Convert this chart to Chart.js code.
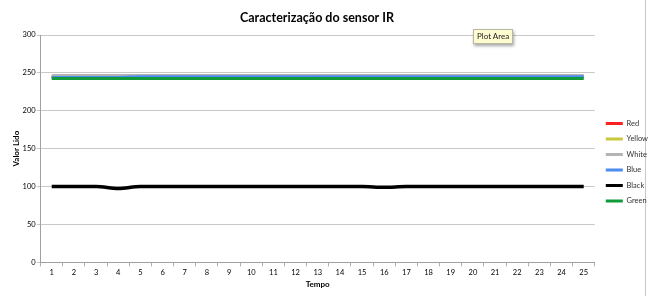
<!DOCTYPE html>
<html>
<head>
<meta charset="utf-8">
<script src="https://cdn.jsdelivr.net/npm/chart.js@4/dist/chart.umd.min.js"></script>
<style>
html,body{margin:0;padding:0;background:#fff;}
#wrap{position:relative;width:650px;height:296px;}
#edge{position:absolute;left:645px;top:0;width:1px;height:296px;background:#c8c8c8;z-index:0;}
#c{position:relative;z-index:1;}
#tip{position:absolute;left:473px;top:29px;padding:1px 3px;font:8px Lato, "Liberation Sans", sans-serif;color:#222;background:#fdfbd0;border:1px solid #b8b8a0;box-shadow:1px 2px 3px rgba(0,0,0,0.35);line-height:11px;z-index:2;}
</style>
</head>
<body>
<div id="wrap">
<div id="edge"></div>
<canvas id="c" width="650" height="296"></canvas>
<div id="tip">Plot Area</div>
</div>
<script>
const categories = ['1','2','3','4','5','6','7','8','9','10','11','12','13','14','15','16','17','18','19','20','21','22','23','24','25'];
const seriesNames = ['Red','Yellow','White','Blue','Black','Green'];
const red    = [245,245,245,245,245,245,245,245,245,245,245,245,245,245,245,245,245,245,245,245,245,245,245,245,245];
const yellow = [245,245,245,245,245,245,245,245,245,245,245,245,245,245,245,245,245,245,245,245,245,245,245,245,245];
const white  = [246,246,246,246,246,246,246,246,246,246,246,246,246,246,246,246,246,246,246,246,246,246,246,246,246];
const blue   = [244,244,244,244,245,245,245,245,245,245,245,245,245,245,245,245,245,245,245,245,245,245,245,245,245];
const black  = [100,100,100,97.5,100,100,100,100,100,100,100,100,100,100,100,99,100,100,100,100,100,100,100,100,100];
const green  = [242.5,242.5,242.5,242.5,242.5,242.5,242.5,242.5,242.5,242.5,242.5,242.5,242.5,242.5,242.5,242.5,242.5,242.5,242.5,242.5,242.5,242.5,242.5,242.5,242.5];
const yTicks = [0,50,100,150,200,250,300];

const colors = ['#ff2020','#c8c83a','#b4b4b4','#4a8cf0','#000000','#119a3a'];
const values = [red,yellow,white,blue,black,green];
const widths = [3,3,4,3,3.5,3];
const orders = [5,4,3,2,1,0];

const FONT = 'Lato, "Liberation Sans", sans-serif';

const datasets = seriesNames.map((n,i)=>({
  label:n,
  data:values[i],
  borderColor:colors[i],
  backgroundColor:colors[i],
  borderWidth:widths[i],
  pointRadius:0,
  cubicInterpolationMode:'monotone',
  order:orders[i]
}));

const shiftPlugin = {
  id:'shiftBoxes',
  afterLayout(chart){
    const t = chart.titleBlock; if (t){ t.left -= 16; t.right -= 16; }
    const l = chart.legend; if (l){ l.left += 3; l.right += 3; }
  }
};

new Chart(document.getElementById('c'),{
  type:'line',
  data:{labels:categories,datasets:datasets},
  plugins:[shiftPlugin],
  options:{
    responsive:false,
    animation:false,
    layout:{padding:{left:11,right:-5,top:0,bottom:7}},
    plugins:{
      tooltip:{enabled:false},
      title:{display:true,text:'Caracterização do sensor IR',color:'#000',
        font:{family:FONT,size:12.5,weight:'bold'},padding:{top:10,bottom:10}},
      legend:{position:'right',align:'center',
        title:{display:true,text:' ',font:{family:FONT,size:8},padding:13},
        labels:{boxWidth:17,boxHeight:3,padding:8,color:'#333',
          font:{family:FONT,size:7.5},
          generateLabels:(chart)=>Chart.defaults.plugins.legend.labels.generateLabels(chart).map(l=>Object.assign(l,{lineWidth:0})),
          sort:(a,b)=>a.datasetIndex-b.datasetIndex}}
    },
    scales:{
      x:{
        offset:true,
        title:{display:true,text:'Tempo',color:'#000',font:{family:FONT,size:8,weight:'bold'},padding:{top:0,bottom:0}},
        grid:{display:true,drawOnChartArea:false,drawTicks:true,tickLength:4,offset:true,color:'#b0b0b0'},
        border:{display:true,color:'#a0a0a0'},
        ticks:{color:'#000',font:{family:FONT,size:7.5},padding:2,maxRotation:0,autoSkip:false}
      },
      y:{
        min:0,max:300,
        afterBuildTicks:(s)=>{s.ticks=yTicks.map(v=>({value:v}));},
        title:{display:true,text:'Valor Lido',color:'#000',font:{family:FONT,size:8,weight:'bold'},padding:{top:1,bottom:0}},
        grid:{color:'#c8c8c8',tickLength:4,lineWidth:1},
        border:{display:true,color:'#a0a0a0'},
        ticks:{color:'#000',font:{family:FONT,size:7.5},padding:1}
      }
    }
  }
});
</script>
</body>
</html>
